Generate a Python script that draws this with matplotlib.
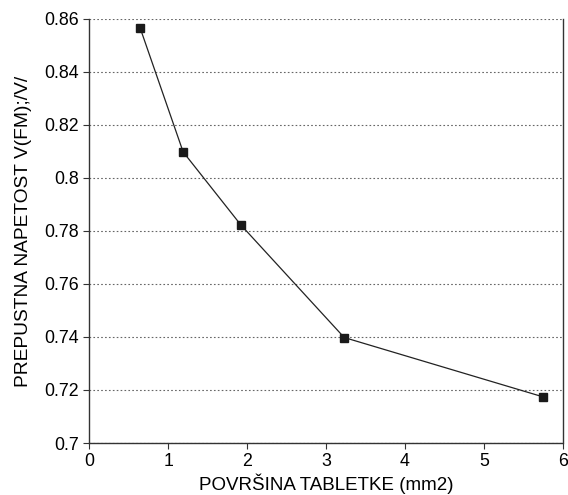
import matplotlib
matplotlib.use("Agg")
import matplotlib.pyplot as plt

area = [0.645, 1.19, 1.92, 3.23, 5.75]
voltage = [0.8566, 0.8098, 0.7823, 0.7398, 0.7174]
xticks = [0, 1, 2, 3, 4, 5, 6]
yticks = [0.7, 0.72, 0.74, 0.76, 0.78, 0.8, 0.82, 0.84, 0.86]
ytick_labels = ["0.7", "0.72", "0.74", "0.76", "0.78", "0.8", "0.82", "0.84", "0.86"]

plt.rcParams['font.family'] = ['Liberation Sans', 'DejaVu Sans']

fig = plt.figure(figsize=(5.68, 4.95), dpi=100)
ax = fig.add_axes([0.157, 0.105, 0.834, 0.857])

ax.plot(area, voltage, color='#222222', linewidth=0.9, marker='s', markersize=6,
        markerfacecolor='#1a1a1a', markeredgecolor='#1a1a1a', zorder=3)

ax.set_xlim(0, 6)
ax.set_ylim(0.7, 0.86)
ax.set_xticks(xticks)
ax.set_yticks(yticks)
ax.set_yticklabels(ytick_labels)
ax.yaxis.grid(True, linestyle=(0, (1.5, 2)), color='#666666', linewidth=0.8)
ax.set_axisbelow(True)

ax.spines['top'].set_visible(False)
ax.spines['bottom'].set_linestyle((0, (2, 1)))
for s in ['left', 'right', 'bottom']:
    ax.spines[s].set_color('#333333')
    ax.spines[s].set_linewidth(1.0)

ax.tick_params(axis='both', labelsize=12.8, color='#333333', length=4, direction='out')
ax.set_xlabel('POVRŠINA TABLETKE (mm2)', fontsize=13.5, labelpad=2)
ax.set_ylabel('PREPUSTNA NAPETOST V(FM);/V/', fontsize=13.8, labelpad=9)

fig.savefig('out.png', dpi=100)
